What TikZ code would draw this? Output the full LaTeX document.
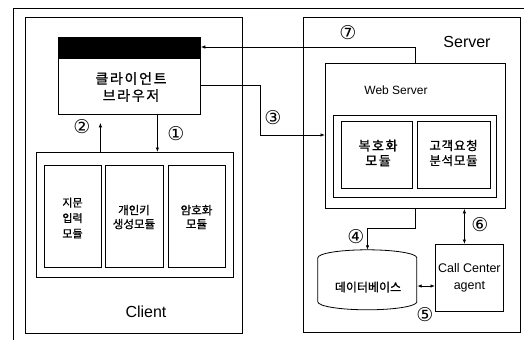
\documentclass[tikz,border=0pt]{standalone}
\usepackage{fontspec}
\setmainfont{Liberation Sans}
\newfontfamily\kr{Noto Sans CJK KR}[FakeBold=1]
\newfontfamily\krw{Noto Sans CJK KR}[LetterSpace=12,FakeBold=1]
\newfontfamily\krm{Noto Sans CJK KR}[LetterSpace=6,FakeBold=1]
\newfontfamily\circfont{DejaVu Sans}
\usetikzlibrary{arrows.meta}
\begin{document}
\begin{tikzpicture}[x=1pt,y=-1pt,
  box/.style={draw, line width=0.8pt, inner sep=0pt, anchor=north west},
  kt/.style={font=\kr\fontsize{11}{15.5}\selectfont, align=center, inner sep=0pt},
  num/.style={font=\circfont\fontsize{19}{19}\selectfont, inner sep=0pt},
  lbl/.style={font=\fontsize{16}{18}\selectfont, inner sep=0pt},
  arr/.style={line width=0.8pt, -{Latex[length=4.5pt,width=3.5pt]}},
  dbl/.style={line width=0.8pt, {Latex[length=4.5pt,width=3.5pt]}-{Latex[length=4.5pt,width=3.5pt]}}
]
\useasboundingbox (0,0) rectangle (526,340);
% page frame
\draw[line width=0.8pt] (13,340) -- (13,8) -- (524,8);

% client side
\node[box, minimum width=217, minimum height=316] (client) at (25,17) {};
\node[box, minimum width=142, minimum height=77] (browser) at (58,37) {};
\node[box, fill=black, minimum width=142, minimum height=21] (band) at (58,37) {};
\node[kt, font=\krw\fontsize{14}{17}\selectfont] (btext) at (131,87) {클라이언트\\브라우저};
\node[box, minimum width=197, minimum height=125] (cmods) at (36,152) {};
\node[box, minimum width=57, minimum height=102] (m1) at (44,165) {};
\node[box, minimum width=58, minimum height=102] (m2) at (105,165) {};
\node[box, minimum width=57, minimum height=102] (m3) at (168,165) {};
\node[kt] (m1t) at (72.5,218) {지문\\입력\\모듈};
\node[kt, font=\kr\fontsize{11.5}{14}\selectfont] (m2t) at (134,217) {개인키\\생성모듈};
\node[kt, font=\kr\fontsize{11.5}{14}\selectfont] (m3t) at (196.5,217) {암호화\\모듈};
\node[lbl] (clbl) at (146,312) {Client};

% server side
\node[box, minimum width=217, minimum height=315] (server) at (303,17) {};
\node[lbl] (slbl) at (467,42) {Server};
\node[box, minimum width=180, minimum height=145] (web) at (325,63) {};
\node[font=\fontsize{12}{14}\selectfont, inner sep=0pt] (wlbl) at (396,90) {Web Server};
\node[box, minimum width=163, minimum height=82] (smods) at (333,115) {};
\node[box, minimum width=71, minimum height=67] (sa) at (341,121) {};
\node[box, minimum width=73, minimum height=67] (sb) at (417,121) {};
\node[kt, font=\krw\fontsize{13}{15}\selectfont] (sat) at (378,153) {복호화\\모듈};
\node[kt, font=\krm\fontsize{12.5}{15}\selectfont] (sbt) at (453.5,153) {고객요청\\분석모듈};

% database
\node[minimum width=99, minimum height=60, inner sep=0pt] (db) at (367.5,280) {};
\draw[line width=0.8pt] (db.north west) ++(0,8) arc[start angle=180, end angle=360, x radius=49.5, y radius=8]
  -- ++(0,44) arc[start angle=0, end angle=180, x radius=49.5, y radius=8] -- cycle;
\node[kt, font=\kr\fontsize{12}{14}\selectfont] (dbt) at (368,287) {데이터베이스};

% call center
\node[box, minimum width=68, minimum height=67] (cc) at (435,244) {};
\node[font=\fontsize{12.5}{17}\selectfont, align=center, inner sep=0pt] (cct) at (cc.center) {Call Center\\agent};

% connectors
\draw[arr] ([xshift=28pt]browser.south) -- ([xshift=28pt]browser.south |- cmods.north);
\draw[arr] ([xshift=-29pt]browser.south |- cmods.north) -- ([xshift=-29pt,yshift=-8pt]browser.south);
\draw[arr] (web.north) |- ([yshift=-10pt]browser.north east);
\draw[arr] ([yshift=-48pt]browser.north east) -| ++(60,50) -- ([yshift=-72pt]web.north west);
\draw[arr] (web.south) -- ++(0,20) -| (db.north);
\draw[dbl] ([xshift=-5pt]cc.north |- web.south) -- ([xshift=-5pt]cc.north);
\draw[dbl] ([yshift=-6pt]db.east) -- ([yshift=-6pt]db.east -| cc.west);

% step numbers
\node[num] (n1) at (176,134) {①};
\node[num] (n2) at (82,127) {②};
\node[num] (n3) at (273,118) {③};
\node[num] (n4) at (356,237) {④};
\node[num] (n5) at (425,315) {⑤};
\node[num] (n6) at (480,225) {⑥};
\node[num] (n7) at (348,33) {⑦};
\end{tikzpicture}
\end{document}
